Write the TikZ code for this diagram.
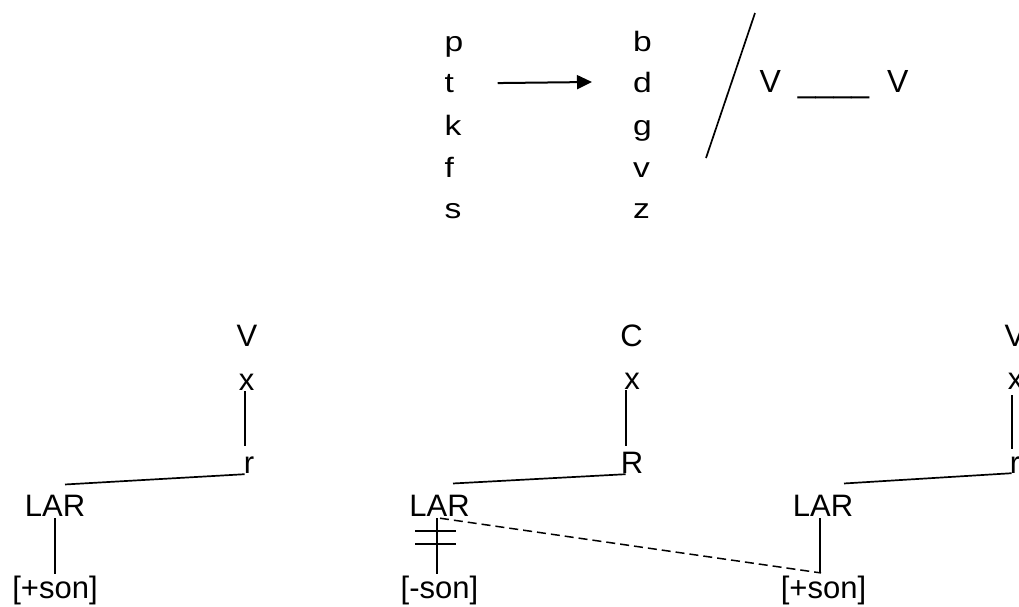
\documentclass[tikz,border=0pt]{standalone}
\usepackage{fontspec}
\setmainfont{Liberation Sans}
\newfontfamily\widesans[FakeStretch=1.2]{Liberation Sans}
\usetikzlibrary{arrows.meta}
\tikzset{
  treetext/.style={font=\fontsize{31}{36}\selectfont, inner sep=0pt, anchor=base},
  ruletext/.style={font=\widesans\fontsize{28}{34}\selectfont, inner sep=0pt, anchor=base west},
  envtext/.style={font=\fontsize{32}{38}\selectfont, inner sep=0pt, anchor=base west},
  link/.style={line width=1.7pt},
  dlink/.style={line width=1.5pt, dash pattern=on 9pt off 5pt},
  arr/.style={line width=2pt, -{Triangle[length=15pt,width=14pt]}}
}
\begin{document}
\begin{tikzpicture}[x=1pt,y=-1pt]
\fill[white] (0,0) rectangle (1019,606);
\useasboundingbox (0,0) rectangle (1019,606);
% top rule
\node[ruletext] (p) at (444.5,51) {p};
\node[ruletext] (t) at (444.5,92) {t};
\node[ruletext] (k) at (444.5,135) {k};
\node[ruletext] (f) at (444.5,177) {f};
\node[ruletext] (s) at (444.5,218) {s};
\node[ruletext] (b) at (633,51) {b};
\node[ruletext] (d) at (633,92) {d};
\node[ruletext] (g) at (633,135) {g};
\node[ruletext] (v) at (633,177) {v};
\node[ruletext] (z) at (633,218) {z};
\draw[arr] ([shift={(43.5,0)}]t.east) -- ([shift={(-41,0)}]d.west);
\coordinate (sl1) at (755,13);
\coordinate (sl2) at (706,158);
\draw[link] (sl1) -- (sl2);
\node[envtext] (va) at (759.5,92) {V};
\node[envtext,anchor=base] (us) at (833.5,92.5) {\_\_\_\_};
\node[envtext] (vb) at (887,92) {V};
% tree 1
\node[treetext] (V1) at (247,346) {V};
\node[treetext] (x1) at (246.5,390) {x};
\node[treetext] (r1) at (249,473) {r};
\node[treetext] (L1) at (55,516) {LAR};
\node[treetext] (s1) at (55,598) {[+son]};
\draw[link] ([shift={(-1.5,1)}]x1.south) -- ([shift={(-4,-10)}]r1.north);
\draw[link] ([shift={(1,1)}]r1.south west) -- ([shift={(10,-10)}]L1.north);
\draw[link] ([shift={(0,2)}]L1.south) -- ([shift={(0,-1.5)}]s1.north);
% tree 2
\node[treetext] (C2) at (631.5,346) {C};
\node[treetext] (x2) at (632,389) {x};
\node[treetext] (R2) at (632,473) {R};
\node[treetext] (L2) at (439.5,516) {LAR};
\node[treetext] (s2) at (439.5,598) {[-son]};
\draw[link] ([shift={(-6,1)}]x2.south) -- ([shift={(-6,-5)}]R2.north);
\draw[link] ([shift={(5,1)}]R2.south west) -- ([shift={(13.5,-11)}]L2.north);
\draw[link] ([shift={(-2.5,2)}]L2.south) -- ([shift={(-2.5,-1.5)}]s2.north);
\draw[link] ([shift={(-24.5,15)}]L2.south) -- ([shift={(16.5,15)}]L2.south);
\draw[link] ([shift={(-24.5,28)}]L2.south) -- ([shift={(16.5,28)}]L2.south);
% tree 3
\node[treetext] (L3) at (823,516) {LAR};
\node[treetext] (s3) at (823.5,598) {[+son]};
\node[treetext] (V3) at (1015,346) {V};
\node[treetext] (x3) at (1015.5,389) {x};
\node[treetext] (r3) at (1015,473) {r};
\draw[link] ([shift={(-3.5,6)}]x3.south) -- ([shift={(-3,-7)}]r3.north);
\draw[link] ([shift={(2,0)}]r3.south west) -- ([shift={(21,-11)}]L3.north);
\draw[link] ([shift={(-3,2)}]L3.south) -- ([shift={(-3.5,-2.4)}]s3.north);
\draw[dlink] ([shift={(0.5,2)}]L2.south) -- ([shift={(-2.5,-2.4)}]s3.north);
\end{tikzpicture}
\end{document}
